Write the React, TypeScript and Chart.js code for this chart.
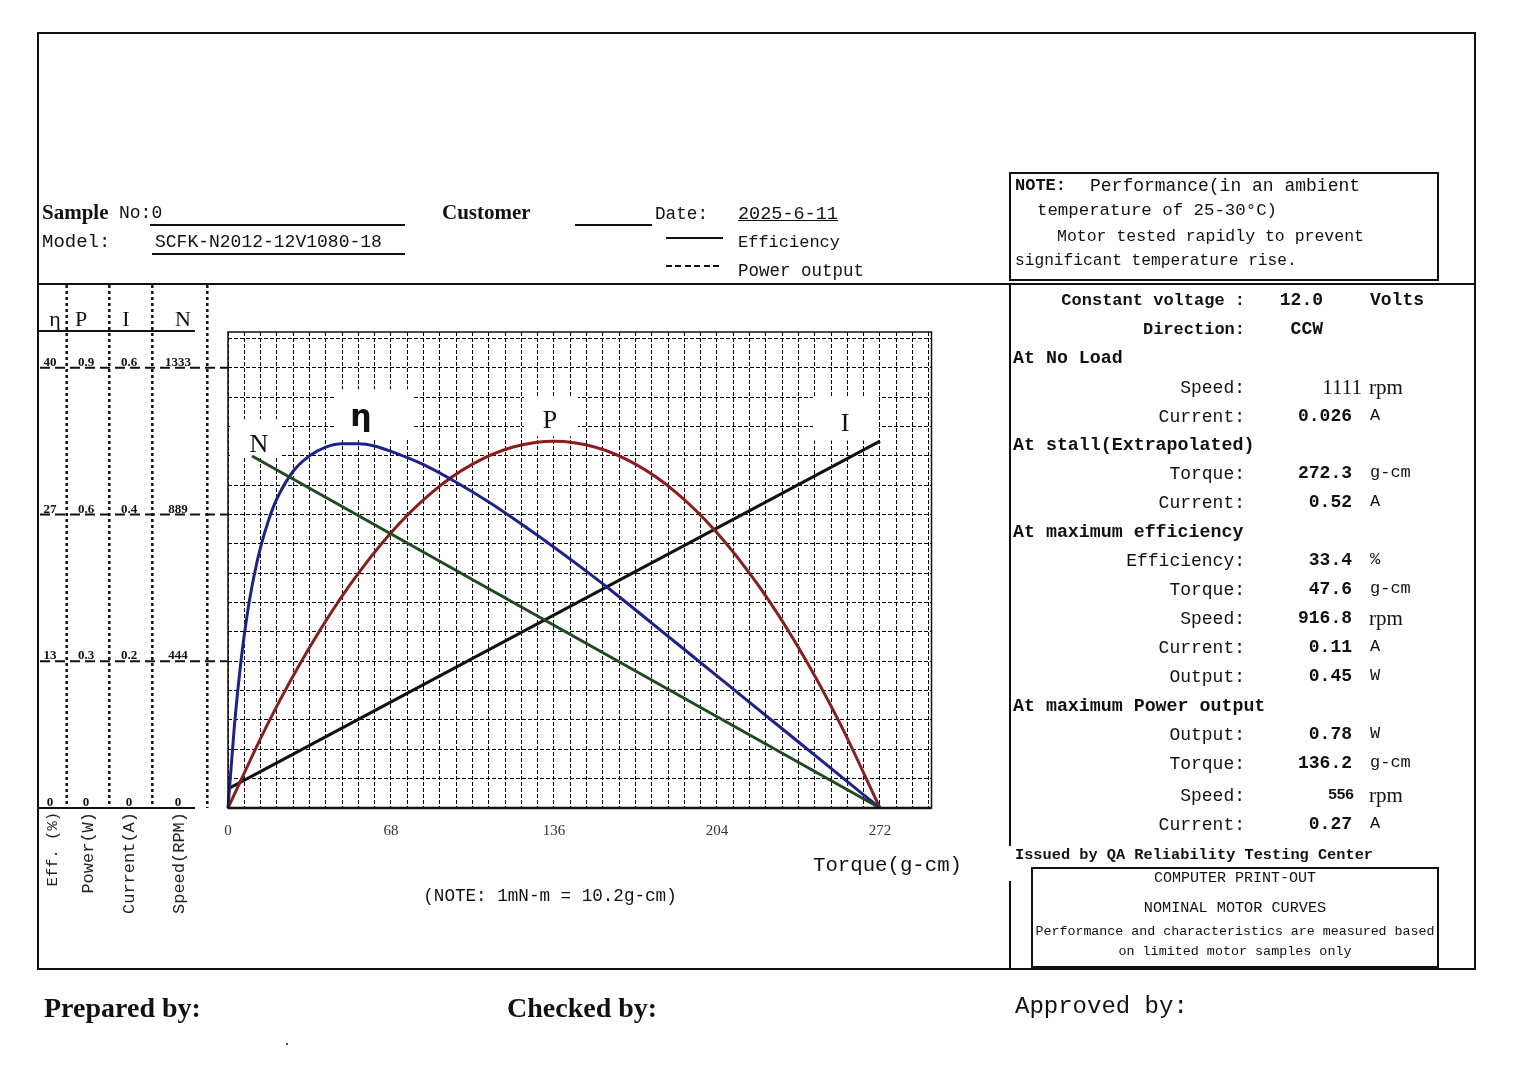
import React, { useEffect, useRef } from "react";
import { Chart, registerables } from "chart.js";

Chart.register(...registerables);

const W = 1515;
const H = 1071;
const MONO = '"Liberation Mono", "DejaVu Sans Mono", monospace';
const SERIF = '"Liberation Serif", "DejaVu Serif", serif';
const SANS = '"Liberation Sans", "DejaVu Sans", sans-serif';

// ---------- data ----------
const torqueTickLabels = [0, 68, 136, 204, 272];

const effTorque = [0, 2.72, 5.44, 8.16, 10.88, 13.6, 17, 20.4, 27.2, 34, 40.8, 47.6, 54.4, 61.2, 68, 81.6, 95.2, 108.8, 122.4, 136, 149.6, 163.2, 176.8, 190.4, 204, 217.6, 231.2, 244.8, 258.4, 272];
const effValues = [0, 7.6, 13.4, 17.8, 21.1, 23.7, 26.2, 28.1, 30.6, 32.0, 32.8, 33.1, 33.1, 32.9, 32.4, 31.2, 29.6, 27.8, 25.8, 23.7, 21.5, 19.2, 16.8, 14.4, 12.0, 9.6, 7.2, 4.8, 2.4, 0];

const powerTorque = [0, 17, 34, 51, 68, 85, 102, 119, 136, 153, 170, 187, 204, 221, 238, 255, 272];
const powerValues = [0, 0.176, 0.328, 0.457, 0.563, 0.645, 0.703, 0.738, 0.75, 0.738, 0.703, 0.645, 0.563, 0.457, 0.328, 0.176, 0];

const speedTorque = [10, 272];
const speedValues = [1066, 0];

const currentTorque = [0, 272];
const currentValues = [0.026, 0.5];

// left-hand multi axis
const effAxisLabels = ["0", "13", "27", "40"];
const powerAxisLabels = ["0", "0.3", "0.6", "0.9"];
const currentAxisLabels = ["0", "0.2", "0.4", "0.6"];
const speedAxisLabels = ["0", "444", "889", "1333"];
const speedAxisValues = [0, 444.33, 888.67, 1333];
const axisTitles = ["Eff. (%)", "Power(W)", "Current(A)", "Speed(RPM)"];
const axisHeads = ["η", "P", "I", "N"];
const EFF_FULL = 40;
const POWER_FULL = 0.9;
const CURRENT_FULL = 0.6;
const SPEED_FULL = 1333;

// curve tags
const curveTagNames = ["N", "η", "P", "I"];
const curveTagTorque = [12.9, 55.5, 134.3, 257.4];
const curveTagEff = [32.33, 34.69, 34.5, 34.3];

// spec table
const specLabels = ["Constant voltage :", "Direction:", "At No Load", "Speed:", "Current:", "At stall(Extrapolated)", "Torque:", "Current:", "At maximum efficiency", "Efficiency:", "Torque:", "Speed:", "Current:", "Output:", "At maximum Power output", "Output:", "Torque:", "Speed:", "Current:"];
const specValues = ["12.0", "CCW", "", "1111", "0.026", "", "272.3", "0.52", "", "33.4", "47.6", "916.8", "0.11", "0.45", "", "0.78", "136.2", "556", "0.27"];
const specUnits = ["Volts", "", "", "rpm", "A", "", "g-cm", "A", "", "%", "g-cm", "rpm", "A", "W", "", "W", "g-cm", "rpm", "A"];

// ---------- layout (pixels) ----------
const PLOT_L = 228;
const PLOT_T = 332;
const PLOT_R = 931.5;
const PLOT_B = 808;
const X_MAX = 293.5;
const ROWS = 16.22; // visible grid rows, 15 rows = full scale
const X_AXIS_H = 40;
const specRowY = [302, 331, 359, 389, 418, 446, 475, 504, 533, 562, 591, 620, 649, 678, 707, 736, 765, 797, 826];
const colCenters = [50, 86, 129, 178];
const colTitleX = [53, 88, 129, 179];
const dividerX = [66.7, 109.3, 152.3, 207.3];
const headX = [55, 81, 126, 183];
// box around each curve tag: [dxLeft, dyTop, width, height] relative to text anchor (center, baseline)
const tagBoxes = [
  [-29, -33, 50, 37],
  [-27, -37, 78, 49],
  [-26, -32, 54, 40],
  [-32, -34, 66, 44],
];
const tagFonts = [`26px ${SERIF}`, `bold 30px "DejaVu Sans", sans-serif`, `26px ${SERIF}`, `26px ${SERIF}`];

type TxtProps = {
  x: number; y: number; s: number; f?: string; b?: boolean; a?: "l" | "r" | "c";
  c?: string; u?: boolean; children: React.ReactNode;
};
function Txt({ x, y, s, f = MONO, b = false, a = "l", c = "#111", u = false, children }: TxtProps) {
  const style: React.CSSProperties = {
    position: "absolute",
    top: y - s * 0.62,
    fontSize: s,
    lineHeight: `${s * 1.2}px`,
    fontFamily: f,
    fontWeight: b ? "bold" : "normal",
    color: c,
    whiteSpace: "pre",
    textDecoration: u ? "underline" : "none",
  };
  if (a === "l") style.left = x;
  else if (a === "r") style.right = W - x;
  else {
    style.left = x;
    style.transform = "translateX(-50%)";
  }
  return <div style={style}>{children}</div>;
}
function HL({ x1, x2, y, w = 1.5 }: { x1: number; x2: number; y: number; w?: number }) {
  return <div style={{ position: "absolute", left: x1, top: y - w / 2, width: x2 - x1, height: w, background: "#111" }} />;
}
function VL({ x, y1, y2, w = 1.5 }: { x: number; y1: number; y2: number; w?: number }) {
  return <div style={{ position: "absolute", left: x - w / 2, top: y1, width: w, height: y2 - y1, background: "#111" }} />;
}
function Box({ x1, y1, x2, y2, w = 2 }: { x1: number; y1: number; x2: number; y2: number; w?: number }) {
  return (
    <div style={{ position: "absolute", left: x1, top: y1, width: x2 - x1, height: y2 - y1, border: `${w}px solid #111`, boxSizing: "border-box" }} />
  );
}

const overlayPlugin = {
  id: "overlay",
  beforeDatasetsDraw(chart: any) {
    const ctx = chart.ctx as CanvasRenderingContext2D;
    const xs = chart.scales.x;
    const ys = chart.scales.y;
    ctx.save();
    curveTagNames.forEach((name, i) => {
      const cx = xs.getPixelForValue(curveTagTorque[i]);
      const cy = ys.getPixelForValue(curveTagEff[i]);
      const [dx, dy, bw, bh] = tagBoxes[i];
      ctx.fillStyle = "#fff";
      ctx.fillRect(cx + dx, cy + dy, bw, bh);
      ctx.fillStyle = "#111";
      ctx.font = tagFonts[i];
      ctx.textAlign = "center";
      ctx.textBaseline = "alphabetic";
      ctx.fillText(name, cx, cy);
    });
    ctx.restore();
  },
  afterDraw(chart: any) {
    const ctx = chart.ctx as CanvasRenderingContext2D;
    const { left, top, right, bottom } = chart.chartArea;
    const yN = chart.scales.yN;
    ctx.save();
    // plot frame
    ctx.setLineDash([]);
    ctx.strokeStyle = "#111";
    ctx.lineWidth = 1.5;
    ctx.strokeRect(left, top, right - left, bottom - top);
    ctx.lineWidth = 2.5;
    ctx.beginPath();
    ctx.moveTo(left, bottom);
    ctx.lineTo(right, bottom);
    ctx.stroke();

    // left multi-axis panel
    const cols = [effAxisLabels, powerAxisLabels, currentAxisLabels, speedAxisLabels];
    speedAxisValues.forEach((v, i) => {
      const py = yN.getPixelForValue(v);
      ctx.strokeStyle = "#111";
      if (i === 0) {
        ctx.setLineDash([]);
        ctx.lineWidth = 2;
        ctx.beginPath();
        ctx.moveTo(37, py);
        ctx.lineTo(195, py);
        ctx.stroke();
      } else {
        ctx.setLineDash([10, 5]);
        ctx.lineWidth = 2;
        ctx.beginPath();
        ctx.moveTo(40, py);
        ctx.lineTo(left, py);
        ctx.stroke();
      }
      ctx.setLineDash([]);
      ctx.fillStyle = "#111";
      ctx.font = `bold 13px ${SERIF}`;
      ctx.textAlign = "center";
      ctx.textBaseline = "alphabetic";
      cols.forEach((labels, j) => ctx.fillText(labels[i], colCenters[j], py - 2));
    });
    // dotted dividers
    ctx.setLineDash([3, 3]);
    ctx.lineWidth = 2.5;
    dividerX.forEach((x) => {
      ctx.beginPath();
      ctx.moveTo(x, 285);
      ctx.lineTo(x, bottom);
      ctx.stroke();
    });
    ctx.setLineDash([]);
    // rotated axis titles
    ctx.fillStyle = "#222";
    axisTitles.forEach((t, j) => {
      ctx.save();
      ctx.translate(colTitleX[j], 812);
      ctx.rotate(-Math.PI / 2);
      ctx.font = `${j === 0 ? 15.5 : 17}px ${MONO}`;
      ctx.textAlign = "right";
      ctx.textBaseline = "middle";
      ctx.fillText(t, 0, 0);
      ctx.restore();
    });
    ctx.restore();
  },
};

export default function App() {
  const canvasRef = useRef<HTMLCanvasElement>(null);

  useEffect(() => {
    const canvas = canvasRef.current;
    if (!canvas) return;
    const pts = (xs: number[], ys: number[]) => xs.map((x, i) => ({ x, y: ys[i] }));
    const gridDash = [4, 2];
    const chart = new Chart(canvas, {
      type: "line",
      data: {
        datasets: [
          { label: "N", data: pts(speedTorque, speedValues), yAxisID: "yN", borderColor: "#1f4b20", borderWidth: 3, pointRadius: 0, clip: 6 } as any,
          { label: "η", data: pts(effTorque, effValues), yAxisID: "y", borderColor: "#1d2190", borderWidth: 3, pointRadius: 0, cubicInterpolationMode: "monotone", clip: 6 } as any,
          { label: "P", data: pts(powerTorque, powerValues), yAxisID: "yP", borderColor: "#8c1d1d", borderWidth: 3, pointRadius: 0, cubicInterpolationMode: "monotone", clip: 6 } as any,
          { label: "I", data: pts(currentTorque, currentValues), yAxisID: "yI", borderColor: "#111111", borderWidth: 3, pointRadius: 0, clip: 6 } as any,
        ],
      },
      options: {
        animation: false,
        responsive: false,
        devicePixelRatio: 1,
        layout: { padding: { left: PLOT_L, top: PLOT_T, right: W - PLOT_R, bottom: H - PLOT_B - X_AXIS_H } },
        plugins: { legend: { display: false }, tooltip: { enabled: false } },
        scales: {
          x: {
            type: "linear",
            min: 0,
            max: X_MAX,
            afterBuildTicks: (scale: any) => {
              const t: { value: number }[] = [];
              for (let k = 0; k * 6.8 <= X_MAX; k++) t.push({ value: +(k * 6.8).toFixed(2) });
              scale.ticks = t;
            },
            afterFit: (scale: any) => {
              scale.height = X_AXIS_H;
            },
            grid: { color: "#000", lineWidth: 1, drawTicks: false },
            border: { display: false, dash: gridDash },
            ticks: {
              autoSkip: false,
              maxRotation: 0,
              padding: 14,
              color: "#333",
              font: { family: SERIF, size: 15 },
              callback: (v: any) => (torqueTickLabels.includes(Number(v)) ? String(v) : ""),
            },
          },
          y: {
            type: "linear",
            min: 0,
            max: (EFF_FULL * ROWS) / 15,
            afterBuildTicks: (scale: any) => {
              const t: { value: number }[] = [];
              for (let k = 0; k <= 16; k++) t.push({ value: (k * EFF_FULL) / 15 });
              scale.ticks = t;
            },
            afterFit: (scale: any) => {
              scale.width = 0;
            },
            grid: { color: "#000", lineWidth: 1, drawTicks: false },
            border: { display: false, dash: gridDash },
            ticks: { display: false },
          },
          yP: { type: "linear", display: false, min: 0, max: (POWER_FULL * ROWS) / 15 },
          yI: { type: "linear", display: false, min: 0, max: (CURRENT_FULL * ROWS) / 15 },
          yN: { type: "linear", display: false, min: 0, max: (SPEED_FULL * ROWS) / 15 },
        },
      } as any,
      plugins: [overlayPlugin],
    });
    return () => chart.destroy();
  }, []);

  return (
    <div style={{ position: "absolute", left: 0, top: 0, width: W, height: H, background: "#fff", overflow: "hidden" }}>
      <canvas ref={canvasRef} width={W} height={H} style={{ position: "absolute", left: 0, top: 0, width: W, height: H }} />

      {/* frames */}
      <Box x1={37} y1={32} x2={1476} y2={970} w={2} />
      <HL x1={38} x2={1475} y={284} w={1.5} />
      <VL x={1010} y1={284} y2={846} w={2} />
      <VL x={1010} y1={881} y2={969} w={2} />
      <Box x1={1009} y1={172} x2={1439} y2={281} w={2} />
      <Box x1={1031} y1={867} x2={1439} y2={968} w={2} />
      <HL x1={37} x2={195} y={330.5} w={2} />

      {/* header */}
      <Txt x={42} y={213} s={21} f={SERIF} b>Sample</Txt>
      <Txt x={119} y={214} s={18}>No:0</Txt>
      <HL x1={150} x2={405} y={225} />
      <Txt x={42} y={243} s={19}>Model:</Txt>
      <Txt x={155} y={243} s={18}>SCFK-N2012-12V1080-18</Txt>
      <HL x1={152} x2={405} y={254} />
      <Txt x={442} y={213} s={21} f={SERIF} b>Customer</Txt>
      <HL x1={575} x2={652} y={225} w={2} />
      <Txt x={655} y={215} s={17.7}>Date:</Txt>
      <Txt x={738} y={215} s={18.5} u>2025-6-11</Txt>
      <HL x1={666} x2={723} y={238} />
      <Txt x={738} y={244} s={17}>Efficiency</Txt>
      <div style={{ position: "absolute", left: 666, top: 265, width: 57, height: 2, background: "repeating-linear-gradient(90deg, #111 0 6px, transparent 6px 9.5px)" }} />
      <Txt x={738} y={272} s={17.5}>Power output</Txt>

      {/* left axis heads */}
      {axisHeads.map((h, i) => (
        <Txt key={h} x={headX[i]} y={320} s={22} f={SERIF} a="c">{h}</Txt>
      ))}

      {/* plot captions */}
      <Txt x={813} y={867} s={20.7}>Torque(g-cm)</Txt>
      <Txt x={550} y={897} s={17.6} a="c">(NOTE: 1mN-m = 10.2g-cm)</Txt>

      {/* note box */}
      <Txt x={1015} y={187} s={17} b>NOTE:</Txt>
      <Txt x={1090} y={187} s={18}>Performance(in an ambient</Txt>
      <Txt x={1037} y={212} s={17.4}>temperature of 25-30°C)</Txt>
      <Txt x={1057} y={237} s={16.5}>Motor tested rapidly to prevent</Txt>
      <Txt x={1015} y={262} s={16.2}>significant temperature rise.</Txt>

      {/* spec table */}
      {specLabels.map((lab, i) => {
        const y = specRowY[i];
        const val = specValues[i];
        const unit = specUnits[i];
        const heading = val === "";
        const top2 = i < 2;
        const valRight = top2 ? 1323 : val === "1111" ? 1362 : val === "556" ? 1354 : 1352;
        return (
          <React.Fragment key={i}>
            {heading ? (
              <Txt x={1013} y={y} s={18.3} b>{lab}</Txt>
            ) : (
              <Txt x={1245} y={y} s={top2 ? 17 : 18} b={top2} a="r">{lab}</Txt>
            )}
            {!heading && (
              val === "1111" ? (
                <Txt x={valRight} y={y - 1} s={21} f={SERIF} a="r">{val}</Txt>
              ) : val === "556" ? (
                <Txt x={valRight} y={y - 2} s={15.5} f={SANS} b a="r">{val}</Txt>
              ) : (
                <Txt x={valRight} y={y - 1} s={18} b a="r">{val}</Txt>
              )
            )}
            {unit !== "" && (
              unit === "rpm" ? (
                <Txt x={1369} y={y - 1} s={21} f={SERIF}>{unit}</Txt>
              ) : (
                <Txt x={1370} y={y - 1} s={unit === "Volts" ? 18 : 17} b={unit === "Volts"}>{unit}</Txt>
              )
            )}
          </React.Fragment>
        );
      })}

      <Txt x={1015} y={855} s={15.3} b>Issued by QA Reliability Testing Center</Txt>
      <Txt x={1235} y={879} s={15} a="c">COMPUTER PRINT-OUT</Txt>
      <Txt x={1235} y={908} s={15.2} a="c">NOMINAL MOTOR CURVES</Txt>
      <Txt x={1235} y={932} s={13.3} a="c">Performance and characteristics are measured based</Txt>
      <Txt x={1235} y={952} s={13.4} a="c">on limited motor samples only</Txt>

      {/* footer */}
      <Txt x={44} y={1008} s={28} f={SERIF} b>Prepared by:</Txt>
      <Txt x={507} y={1008} s={28} f={SERIF} b>Checked by:</Txt>
      <Txt x={1015} y={1008} s={24}>Approved by:</Txt>
      <div style={{ position: "absolute", left: 286, top: 1043, width: 1.5, height: 1.5, background: "#555" }} />
    </div>
  );
}
